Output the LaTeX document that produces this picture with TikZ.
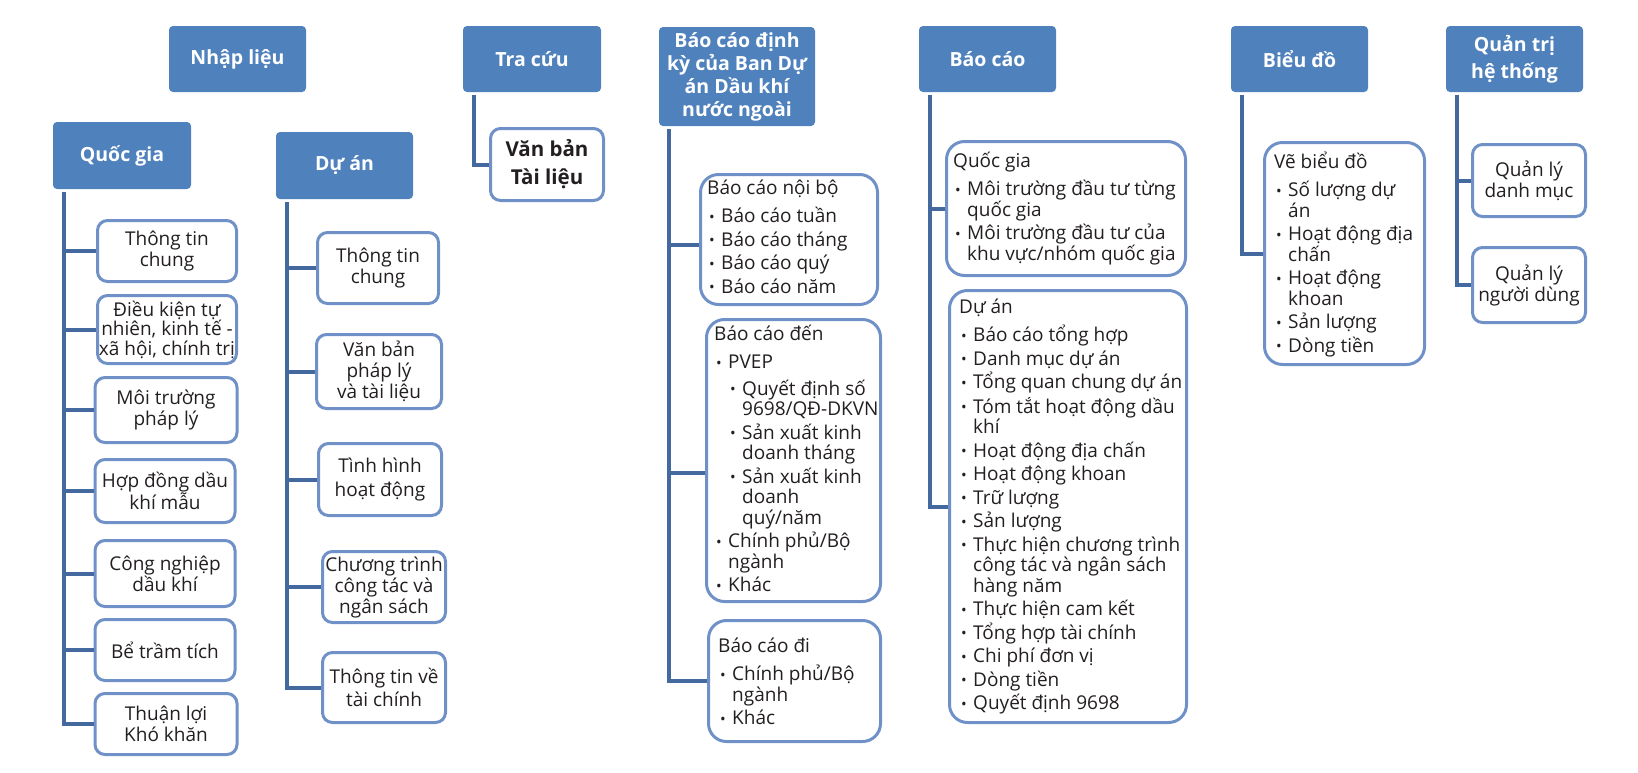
\documentclass[tikz,border=0pt]{standalone}
\usepackage{fontspec}
\setmainfont{Open Sans}
\definecolor{hblue}{HTML}{4F81BD}
\definecolor{bblue}{HTML}{6F91C8}
\definecolor{cblue}{HTML}{44699E}
\definecolor{tblack}{HTML}{231F20}
\newcommand\hdrfont{\fontsize{19.5}{23}\selectfont\bfseries}
\newcommand\bodyfont{\fontsize{19}{21}\selectfont}
\newcommand\listfont{\fontsize{19}{20.5}\selectfont}
\newcommand\fstrut{\rule{0pt}{20pt}}
\newcommand\lbul{\raisebox{0.5pt}{\fontsize{15}{15}\selectfont •}}
\newcommand\lbi[1]{\hspace*{2pt}\makebox[12pt][l]{\lbul}#1}
\newcommand\lci[1]{\hspace*{14pt}#1}
\newcommand\lsbi[1]{\hspace*{16pt}\makebox[12pt][l]{\lbul}#1}
\newcommand\lsci[1]{\hspace*{28pt}#1}
\begin{document}
\begin{tikzpicture}[x=1pt,y=-1pt,
  hdr/.style={fill=hblue, rounded corners=4pt, inner sep=0pt, text=white, font=\hdrfont, align=center},
  sbox/.style={draw=bblue, line width=3pt, rounded corners=10pt, fill=white, inner sep=0pt, align=center, font=\bodyfont, text=tblack},
  lbox/.style={draw=bblue, line width=3pt, rounded corners=18pt, fill=white, inner sep=0pt},
  ltext/.style={anchor=north west, inner sep=0pt, align=left, font=\listfont, text=tblack},
  conn/.style={draw=cblue, line width=4pt}]
\useasboundingbox (0,0) rectangle (1638,772);

% headers
\node[hdr, minimum width=137pt, minimum height=66pt] (nl) at (237.5,59) {Nhập liệu};
\node[hdr, minimum width=138pt, minimum height=66pt] (tc) at (532,59) {Tra cứu};
\node[hdr, minimum width=156pt, minimum height=99pt] (dk) at (737,76.5) {Báo cáo định\\kỳ của Ban Dự\\án Dầu khí\\nước ngoài};
\node[hdr, minimum width=137pt, minimum height=66pt] (bc) at (987.5,59) {Báo cáo};
\node[hdr, minimum width=137pt, minimum height=66pt] (bd) at (1299.5,59) {Biểu đồ};
\node[hdr, minimum width=137pt, minimum height=66pt, font=\fontsize{19.5}{27}\selectfont\bfseries] (qt) at (1514.5,59) {Quản trị\\hệ thống};
\node[hdr, minimum width=138pt, minimum height=67pt] (qg) at (122,155.5) {Quốc gia};
\node[hdr, minimum width=137pt, minimum height=67pt] (da) at (344.5,165.5) {Dự án};

% Quoc gia children
\node[sbox, minimum width=139pt, minimum height=61pt] (q1) at (167,251) {Thông tin\\chung};
\node[sbox, minimum width=139pt, minimum height=68pt, font=\fontsize{19}{19.5}\selectfont] (q2) at (167,329.5) {Điều kiện tự\\nhiên, kinh tế -\\xã hội, chính trị};
\node[sbox, minimum width=142pt, minimum height=65pt] (q3) at (166,410) {Môi trường\\pháp lý};
\node[sbox, minimum width=140pt, minimum height=63pt] (q4) at (165,491) {Hợp đồng dầu\\khí mẫu};
\node[sbox, minimum width=140pt, minimum height=66pt] (q5) at (165,573.5) {Công nghiệp\\dầu khí};
\node[sbox, minimum width=140pt, minimum height=61pt] (q6) at (165,650) {Bể trầm tích};
\node[sbox, minimum width=142pt, minimum height=61pt] (q7) at (166,724) {Thuận lợi\\Khó khăn};

% Du an children
\node[sbox, minimum width=121pt, minimum height=71pt] (d1) at (378,268) {Thông tin\\chung};
\node[sbox, minimum width=125pt, minimum height=74pt] (d2) at (379,371.5) {Văn bản\\pháp lý\\và tài liệu};
\node[sbox, minimum width=123pt, minimum height=72pt, font=\fontsize{19}{24}\selectfont] (d3) at (380,479.5) {Tình hình\\hoạt động};
\node[sbox, minimum width=123pt, minimum height=71pt] (d4) at (384,587) {Chương trình\\công tác và\\ngân sách};
\node[sbox, minimum width=123pt, minimum height=70pt, font=\fontsize{19}{23}\selectfont] (d5) at (384,687.5) {Thông tin về\\tài chính};

% Tra cuu child
\node[sbox, minimum width=113pt, minimum height=72pt, font=\fontsize{20.5}{28}\selectfont\bfseries] (t1) at (547,164.5) {Văn bản\\Tài liệu};

% Bao cao dinh ky children
\node[lbox, minimum width=177pt, minimum height=130pt] (nb) at (789,239.5) {};
\node[lbox, minimum width=174pt, minimum height=282pt] (den) at (793.5,460.5) {};
\node[lbox, minimum width=172pt, minimum height=121pt] (di) at (794.5,681) {};
\node[ltext] (nbt) at (707,174) {\fstrut Báo cáo nội bộ\\[8pt]
  \lbi{Báo cáo tuần}\\[3pt]
  \lbi{Báo cáo tháng}\\[3pt]
  \lbi{Báo cáo quý}\\[3pt]
  \lbi{Báo cáo năm}};
\node[ltext] (dent) at (714,320) {\fstrut Báo cáo đến\\[8pt]
  \lbi{PVEP}\\[6pt]
  \lsbi{Quyết định số}\\
  \lsci{9698/QĐ-DKVN}\\[3pt]
  \lsbi{Sản xuất kinh}\\
  \lsci{doanh tháng}\\[3pt]
  \lsbi{Sản xuất kinh}\\
  \lsci{doanh}\\
  \lsci{quý/năm}\\[3pt]
  \lbi{Chính phủ/Bộ}\\
  \lci{ngành}\\[3pt]
  \lbi{Khác}};
\node[ltext] (dit) at (718,632) {\fstrut Báo cáo đi\\[8pt]
  \lbi{Chính phủ/Bộ}\\
  \lci{ngành}\\[3pt]
  \lbi{Khác}};

% Bao cao children
\node[lbox, minimum width=239pt, minimum height=134pt] (bqg) at (1066,208.5) {};
\node[lbox, minimum width=237pt, minimum height=432pt] (bda) at (1068,506.5) {};
\node[ltext] (bqgt) at (953,147) {\fstrut Quốc gia\\[8pt]
  \lbi{Môi trường đầu tư từng}\\
  \lci{quốc gia}\\[3pt]
  \lbi{Môi trường đầu tư của}\\
  \lci{khu vực/nhóm quốc gia}};
\node[ltext] (bdat) at (959,293) {\fstrut Dự án\\[8pt]
  \lbi{Báo cáo tổng hợp}\\[3pt]
  \lbi{Danh mục dự án}\\[3pt]
  \lbi{Tổng quan chung dự án}\\[3pt]
  \lbi{Tóm tắt hoạt động dầu}\\
  \lci{khí}\\[3pt]
  \lbi{Hoạt động địa chấn}\\[3pt]
  \lbi{Hoạt động khoan}\\[3pt]
  \lbi{Trữ lượng}\\[3pt]
  \lbi{Sản lượng}\\[3pt]
  \lbi{Thực hiện chương trình}\\
  \lci{công tác và ngân sách}\\
  \lci{hàng năm}\\[3pt]
  \lbi{Thực hiện cam kết}\\[3pt]
  \lbi{Tổng hợp tài chính}\\[3pt]
  \lbi{Chi phí đơn vị}\\[3pt]
  \lbi{Dòng tiền}\\[3pt]
  \lbi{Quyết định 9698}};

% Bieu do child
\node[lbox, minimum width=160pt, minimum height=222pt] (vbd) at (1344.5,253.5) {};
\node[ltext] (vbdt) at (1274,148) {\fstrut Vẽ biểu đồ\\[8pt]
  \lbi{Số lượng dự}\\
  \lci{án}\\[3pt]
  \lbi{Hoạt động địa}\\
  \lci{chấn}\\[3pt]
  \lbi{Hoạt động}\\
  \lci{khoan}\\[3pt]
  \lbi{Sản lượng}\\[3pt]
  \lbi{Dòng tiền}};

% Quan tri children
\node[sbox, minimum width=113pt, minimum height=72pt] (m1) at (1529,180.5) {Quản lý\\danh mục};
\node[sbox, minimum width=113pt, minimum height=75pt] (m2) at (1529,285) {Quản lý\\người dùng};

% connectors
\foreach \c in {q1,q2,q3,q4,q5,q6,q7}
  \draw[conn] ([xshift=11pt,yshift=-3pt]qg.south west) |- (\c.west);
\foreach \c in {d1,d2,d3,d4,d5}
  \draw[conn] ([xshift=11pt,yshift=-3pt]da.south west) |- (\c.west);
\draw[conn] ([xshift=11pt,yshift=-3pt]tc.south west) |- (t1.west);
\draw[conn] ([xshift=10pt,yshift=-3pt]dk.south west) |- ([yshift=-5.5pt]nb.west);
\draw[conn] ([xshift=10pt,yshift=-3pt]dk.south west) |- ([yshift=-12.5pt]den.west);
\draw[conn] ([xshift=10pt,yshift=-3pt]dk.south west) |- (di.west);
\foreach \c in {bqg,bda}
  \draw[conn] ([xshift=11pt,yshift=-3pt]bc.south west) |- (\c.west);
\draw[conn] ([xshift=11pt,yshift=-3pt]bd.south west) |- (vbd.west);
\foreach \c in {m1,m2}
  \draw[conn] ([xshift=11pt,yshift=-3pt]qt.south west) |- (\c.west);
\end{tikzpicture}
\end{document}
